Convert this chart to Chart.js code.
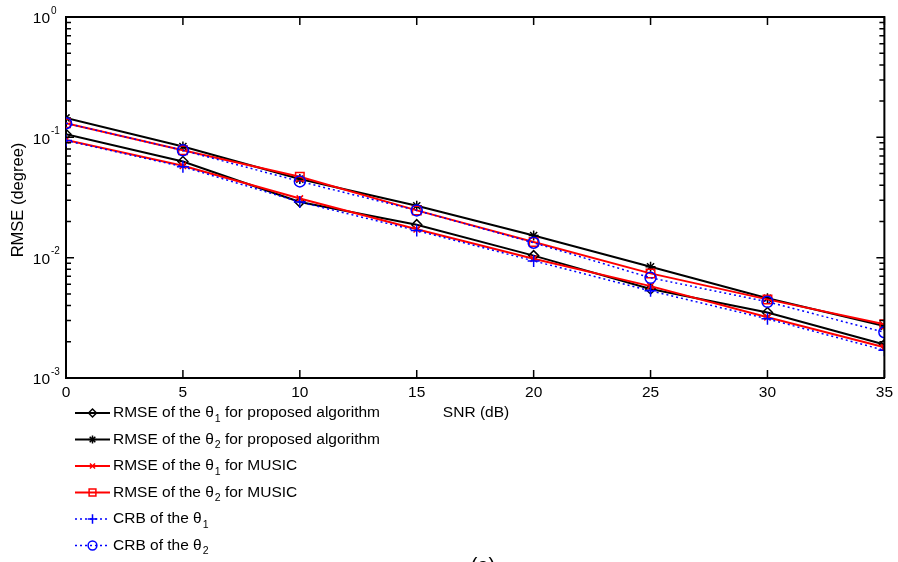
<!DOCTYPE html>
<html>
<head>
<meta charset="utf-8">
<title>RMSE vs SNR</title>
<script src="https://cdn.jsdelivr.net/npm/chart.js@4.4.1/dist/chart.umd.min.js"></script>
<style>
  html, body { margin: 0; padding: 0; background: #fff; }
  #wrap { width: 898px; height: 562px; }
</style>
</head>
<body>
<div id="wrap"><canvas id="rmseChart" width="898" height="562"></canvas></div>
<script>
"use strict";

// SNR (dB) と各手法の RMSE (degree)
const snr = [0, 5, 10, 15, 20, 25, 30, 35];
const rmseProposedT1 = [0.106, 0.063, 0.029, 0.0188, 0.0104, 0.0055, 0.0035, 0.0019];
const rmseProposedT2 = [0.145, 0.084, 0.045, 0.027, 0.0153, 0.0084, 0.0046, 0.0027];
const rmseMusicT1 = [0.095, 0.058, 0.031, 0.0172, 0.0098, 0.0058, 0.0032, 0.0018];
const rmseMusicT2 = [0.131, 0.078, 0.047, 0.0247, 0.0135, 0.0074, 0.0045, 0.0028];
const crbT1 = [0.094, 0.057, 0.029, 0.0168, 0.0094, 0.0053, 0.0031, 0.0017];
const crbT2 = [0.131, 0.078, 0.043, 0.0247, 0.0133, 0.0068, 0.0043, 0.0024];

// 目盛り
const xTicks = [0, 5, 10, 15, 20, 25, 30, 35];
const yDecades = [0.001, 0.01, 0.1, 1];

// 凡例の文字列 (θ の後の数字は下付き)
const legendLabels = [
    ['RMSE of the θ', '1', ' for proposed algorithm'],
    ['RMSE of the θ', '2', ' for proposed algorithm'],
    ['RMSE of the θ', '1', ' for MUSIC'],
    ['RMSE of the θ', '2', ' for MUSIC'],
    ['CRB of the θ', '1', ''],
    ['CRB of the θ', '2', '']
];

const FONT = '"Liberation Sans", Arial, Helvetica, sans-serif';

const toPoints = (ys) => snr.map((x, i) => ({ x, y: ys[i] }));

const makeSet = (data, color, style, radius, dashed, order) => ({
    data: toPoints(data),
    borderColor: color,
    borderWidth: dashed ? 1.5 : 2,
    borderDash: dashed ? [2, 3] : [],
    pointStyle: style,
    pointRadius: radius,
    pointBorderColor: color,
    pointBackgroundColor: 'rgba(0,0,0,0)',
    pointBorderWidth: 1.5,
    fill: false,
    tension: 0,
    order
});

const datasets = [
    makeSet(rmseProposedT1, '#000000', 'rectRot', 5, false, 6),
    makeSet(rmseProposedT2, '#000000', 'star', 5, false, 5),
    makeSet(rmseMusicT1, '#ff0000', 'crossRot', 4.5, false, 4),
    makeSet(rmseMusicT2, '#ff0000', 'rect', 6, false, 3),
    makeSet(crbT1, '#0000ff', 'cross', 6, true, 2),
    makeSet(crbT2, '#0000ff', 'circle', 5.5, true, 1)
];

// 目盛り線・枠・軸ラベル・凡例を描く
const decorPlugin = {
    id: 'decor',
    afterDatasetsDraw(chart) {
        const { ctx, chartArea: a, scales } = chart;
        const xs = scales.x;
        const ys = scales.y;
        ctx.save();
        ctx.strokeStyle = '#000';
        ctx.lineWidth = 2;
        ctx.setLineDash([]);

        // 上と右の枠
        ctx.beginPath();
        ctx.moveTo(a.left, a.top);
        ctx.lineTo(a.right, a.top);
        ctx.lineTo(a.right, a.bottom);
        ctx.stroke();

        // x 方向の内向き目盛り
        ctx.lineWidth = 1.5;
        xTicks.forEach(v => {
            const px = xs.getPixelForValue(v);
            ctx.beginPath();
            ctx.moveTo(px, a.bottom);
            ctx.lineTo(px, a.bottom - 8);
            ctx.moveTo(px, a.top);
            ctx.lineTo(px, a.top + 8);
            ctx.stroke();
        });

        // y 方向 (対数) の内向き目盛り
        yDecades.forEach((d, k) => {
            const py = ys.getPixelForValue(d);
            ctx.beginPath();
            ctx.moveTo(a.left, py);
            ctx.lineTo(a.left + 8, py);
            ctx.moveTo(a.right, py);
            ctx.lineTo(a.right - 8, py);
            ctx.stroke();
            if (k === yDecades.length - 1) return;
            for (let m = 2; m <= 9; m++) {
                const pm = ys.getPixelForValue(d * m);
                ctx.beginPath();
                ctx.moveTo(a.left, pm);
                ctx.lineTo(a.left + 5, pm);
                ctx.moveTo(a.right, pm);
                ctx.lineTo(a.right - 5, pm);
                ctx.stroke();
            }
        });

        // y の目盛りラベル 10^n
        ctx.fillStyle = '#000';
        yDecades.forEach(d => {
            const py = ys.getPixelForValue(d);
            const exp = String(Math.round(Math.log10(d)));
            ctx.font = '15.5px ' + FONT;
            ctx.textAlign = 'right';
            ctx.textBaseline = 'middle';
            ctx.fillText('10', a.left - 16, py + 2);
            ctx.font = '10px ' + FONT;
            ctx.textAlign = 'left';
            ctx.fillText(exp, a.left - 15, py - 6);
        });

        // 軸タイトル
        ctx.font = '15.5px ' + FONT;
        ctx.textAlign = 'center';
        ctx.textBaseline = 'middle';
        ctx.fillText('SNR (dB)', 476, 413);
        ctx.save();
        ctx.font = '16.5px ' + FONT;
        ctx.translate(18, 200);
        ctx.rotate(-Math.PI / 2);
        ctx.fillText('RMSE (degree)', 0, 0);
        ctx.restore();

        // 凡例
        chart.data.datasets.forEach((ds, i) => {
            const y = 413 + i * 26.5;
            ctx.save();
            ctx.strokeStyle = ds.borderColor;
            ctx.lineWidth = ds.borderWidth;
            ctx.setLineDash(ds.borderDash);
            ctx.beginPath();
            ctx.moveTo(75, y);
            ctx.lineTo(110, y);
            ctx.stroke();
            ctx.setLineDash([]);
            ctx.strokeStyle = ds.pointBorderColor;
            ctx.fillStyle = ds.pointBackgroundColor;
            ctx.lineWidth = ds.pointBorderWidth;
            Chart.helpers.drawPoint(ctx, {
                pointStyle: ds.pointStyle,
                radius: ds.pointRadius * 0.8,
                rotation: 0,
                borderWidth: ds.pointBorderWidth
            }, 92.5, y);
            ctx.restore();

            const [pre, sub, post] = legendLabels[i];
            let tx = 113;
            ctx.textAlign = 'left';
            ctx.textBaseline = 'middle';
            ctx.font = '15.5px ' + FONT;
            ctx.fillText(pre, tx, y);
            tx += ctx.measureText(pre).width + 1;
            ctx.font = '10.5px ' + FONT;
            ctx.fillText(sub, tx, y + 6);
            tx += ctx.measureText(sub).width;
            ctx.font = '15.5px ' + FONT;
            ctx.fillText(post, tx, y);
        });

        // 図番号
        ctx.font = '20px ' + FONT;
        ctx.textAlign = 'center';
        ctx.textBaseline = 'top';
        ctx.fillText('(a)', 483, 556);
        ctx.restore();
    }
};

new Chart(document.getElementById('rmseChart'), {
    type: 'line',
    data: { datasets },
    options: {
        responsive: false,
        animation: false,
        layout: { padding: { top: 17, right: 10, left: 0, bottom: 0 } },
        plugins: {
            legend: { display: false },
            tooltip: { enabled: false }
        },
        scales: {
            x: {
                type: 'linear',
                min: 0,
                max: 35,
                afterBuildTicks: (s) => { s.ticks = xTicks.map(v => ({ value: v })); },
                ticks: {
                    color: '#000',
                    font: { family: FONT, size: 15.5 },
                    padding: 5,
                    maxRotation: 0
                },
                grid: { display: false, drawTicks: false },
                border: { color: '#000', width: 2 },
                afterFit: (s) => { s.height = 184; }
            },
            y: {
                type: 'logarithmic',
                min: 0.001,
                max: 1,
                afterBuildTicks: (s) => { s.ticks = yDecades.map(v => ({ value: v, major: true })); },
                ticks: { display: false },
                grid: { display: false, drawTicks: false },
                border: { color: '#000', width: 2 },
                afterFit: (s) => { s.width = 66; }
            }
        }
    },
    plugins: [decorPlugin]
});
</script>
</body>
</html>
